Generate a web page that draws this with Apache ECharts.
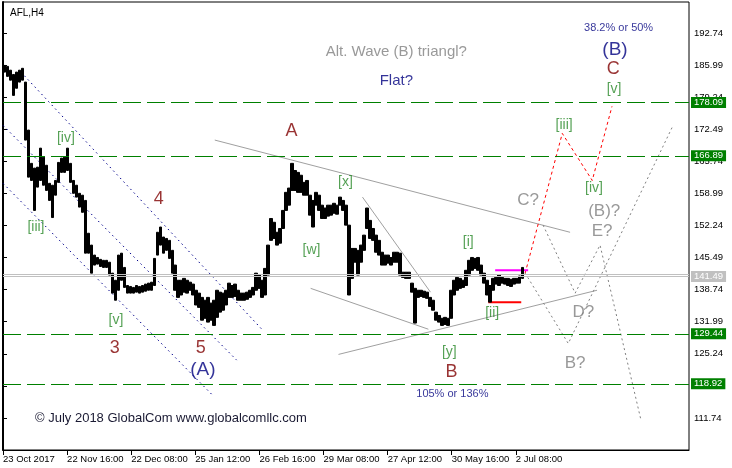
<!DOCTYPE html>
<html><head><meta charset="utf-8">
<script src="https://cdn.jsdelivr.net/npm/echarts@6/dist/echarts.min.js"></script>
<style>html,body{margin:0;padding:0;background:#fff}#c{width:732px;height:468px}</style>
</head><body><div id="c"></div>
<script>
// ---- price data (H4 bars, grouped 3 bars per slot) ----
const highs = [185.9,185.7,184.9,184.0,184.5,184.9,185.3,182.4,172.3,165.3,
164.3,164.5,168.5,166.6,164.9,161.1,160.7,161.7,165.5,166.4,
166.6,168.5,165.3,161.7,160.7,159.0,158.6,157.5,150.6,148.1,
146.0,145.5,145.1,144.9,144.9,144.5,142.2,140.7,146.0,146.4,
143.4,139.6,139.4,139.2,139.6,139.4,139.6,139.9,140.1,140.3,
145.3,150.8,151.9,149.8,149.5,149.1,147.0,143.9,140.7,140.7,
141.1,140.7,140.3,139.9,138.6,138.0,137.1,136.5,137.1,135.9,
136.5,138.6,138.2,138.0,138.6,140.1,139.6,139.9,138.6,138.0,
138.0,138.2,138.6,139.2,142.2,141.8,140.7,143.2,148.1,153.7,
152.9,150.8,151.6,155.4,159.2,160.1,165.3,163.8,163.4,162.8,
161.3,161.7,158.6,157.5,159.2,158.6,156.5,155.9,156.5,156.5,
156.9,156.5,158.2,157.5,156.5,152.3,147.4,147.4,147.0,148.1,
150.2,155.9,153.3,151.6,150.2,149.1,146.6,146.0,146.0,145.5,
146.6,146.6,146.4,142.4,142.4,142.4,140.1,139.0,138.6,138.6,
138.4,138.2,137.1,136.5,134.0,133.3,132.7,132.9,132.7,138.6,
140.7,141.3,141.1,140.7,142.8,144.9,145.5,145.3,145.5,143.9,
142.2,140.7,139.6,141.1,141.3,141.8,141.3,141.1,141.1,140.9,
141.1,141.1,141.6,143.4];
const lows = [184.5,183.6,182.8,179.6,181.1,182.4,182.8,170.2,162.4,161.7,
155.4,160.3,161.7,160.7,159.6,157.5,153.9,158.6,161.3,163.4,
163.4,163.8,161.3,159.0,158.2,156.1,155.0,146.4,146.4,142.2,
143.9,144.1,143.6,143.4,143.4,141.8,138.0,136.5,138.6,140.7,
139.2,138.0,138.0,138.0,138.2,138.0,138.2,138.4,138.6,138.6,
139.6,146.0,148.1,146.4,147.0,145.3,142.2,138.6,137.1,137.6,
138.2,138.0,138.6,137.6,135.5,135.0,132.3,132.7,131.9,132.3,
131.2,132.9,134.0,134.4,135.5,137.1,137.1,137.3,136.5,136.5,
136.5,136.7,137.1,137.6,138.6,139.0,137.1,137.6,141.8,149.1,
149.5,148.1,148.5,151.6,155.4,156.5,159.6,159.6,159.2,159.2,
158.6,158.6,154.4,151.9,156.5,155.4,153.7,153.7,154.2,154.4,
154.8,154.6,156.5,155.4,152.3,137.6,141.1,144.5,141.8,144.5,
147.0,151.6,149.5,149.1,146.6,146.0,143.9,143.9,144.3,143.9,
144.5,144.5,141.8,141.3,141.1,141.1,138.2,131.7,137.1,137.3,
137.1,136.9,135.2,134.4,132.3,131.9,131.2,131.4,131.2,132.7,
137.6,138.6,139.0,139.2,139.6,141.8,142.8,143.2,142.8,141.8,
140.1,137.6,136.1,138.6,139.9,139.6,140.1,139.9,139.6,139.4,
139.9,140.1,140.1,141.1];
const slotCount = 229;

// ---- axes ----
const dateLabels = ['23 Oct 2017','22 Nov 16:00','22 Dec 08:00','25 Jan 12:00','26 Feb 16:00','29 Mar 08:00','27 Apr 12:00','30 May 16:00','2 Jul 08:00'];
const dateTickPos = [0,21.4,42.8,64.2,85.6,107,128.4,149.8,171.2];
const priceMin = 104.99, priceMax = 199.25, priceStep = 6.75;

// ---- levels ----
const greenLevels = [178.09,166.89,129.44,118.92];
const bidLevel = 141.49;
const askLevel = 141.95;

// ---- annotation lines: [slot position, price] ----
const channelLines = [
  [[6,184.5],[86.7,130.2]],
  [[0,173.3],[78,123.9]],
  [[0,161.1],[70,116.5]]
];
const triangleLines = [
  [[70.7,170.2],[189.3,150.8]],
  [[102.7,139.0],[142,130.4]],
  [[112,125.1],[198.3,138.6]],
  [[120,158.2],[142.7,138.2]]
];
const magentaLine = [[164.3,142.8],[175.3,142.8]];
const redLine = [[162,136.1],[173,136.1]];
const redPath = [[174.3,142.2],[186.7,171.6],[196.7,161.7],[203.3,177.3]];
const greyPaths = [
  [[174.3,142.2],[188.7,127.4],[223.7,173.3]],
  [[180.3,152.3],[191,138.0],[199.3,148.1],[213,111.2]]
];

// ---- text labels: [text, slot position, price] ----
const redLabels = [['A',96.3,172.0],['B',149.7,121.35],['4',52,157.75],['3',37.3,126.4],['5',66,126.4],['C',203.7,185.1]];
const navyBigLabels = [['(A)',66.7,121.8],['(B)',204.3,189.3]];
const greenLabels = [['[iv]',21,170.6],['[iii]',11,151.9],['[v]',37.7,132.3],['[x]',114.3,161.3],['[w]',103,147.0],['[i]',155.3,148.7],['[ii]',163.3,133.8],['[y]',149,125.6],['[iii]',187.3,173.3],['[iv]',197.3,160.1],['[v]',204,180.9]];
const greyLabels = [['C?',175.3,157.5],['(B)?',200.7,155.2],['E?',200,151.0],['D?',193.7,134.0],['B?',191,123.2]];
const navySmallLabels = [['38.2% or 50%',205.5,193.7],['105% or 136%',150,116.7]];
const headlineGrey = [['Alt. Wave (B) triangl?',131.3,188.7]];
const headlineNavy = [['Flat?',131.3,182.6]];

const FONT = 'Liberation Sans, Arial, sans-serif';
const chart = echarts.init(document.getElementById('c'), null, {renderer:'canvas'});

const candles = highs.map((h,i)=>[lows[i],h,lows[i],h]);
const categories = Array.from({length:slotCount},(_,i)=>String(i));

function lineSeries(coords, color, type, width){
  return {type:'line', xAxisIndex:1, yAxisIndex:0, data:coords, symbol:'none', silent:true,
    animation:false, z:2, lineStyle:{color:color, width:width||1, type:type||'solid'}};
}
function labelSeries(list, color, size, z){
  return {type:'scatter', xAxisIndex:1, yAxisIndex:0, symbolSize:0, silent:true, animation:false, z:z||6,
    data:list.map(l=>({name:l[0], value:[l[1],l[2]]})),
    label:{show:true, position:'inside', formatter:'{b}', color:color, fontSize:size, fontFamily:FONT}};
}

const markData = greenLevels.map(v=>({yAxis:v,
    lineStyle:{color:'#008000', width:1, type:[18,6]},
    label:{backgroundColor:'#008000'}}));
markData.push({yAxis:askLevel, lineStyle:{color:'#c0c0c0', width:1, type:'solid'}, label:{show:false}});
markData.push({yAxis:bidLevel, lineStyle:{color:'#c0c0c0', width:1, type:'solid'}, label:{backgroundColor:'#c0c0c0'}});

const series = [];
channelLines.forEach(c=>series.push(lineSeries(c,'#00008b',[1.5,3.5])));
triangleLines.forEach(c=>series.push(lineSeries(c,'#a0a0a0','solid')));
greyPaths.forEach(c=>series.push(lineSeries(c,'#808080',[2,3])));
series.push(lineSeries(redPath,'#ff0000',[3,3]));
series.push(lineSeries(magentaLine,'#ff00ff','solid',2));
series.push(lineSeries(redLine,'#ff0000','solid',2));
series.push({type:'candlestick', xAxisIndex:0, yAxisIndex:0, data:candles, barWidth:3, z:3, silent:true, animation:false,
  itemStyle:{color:'#000', color0:'#000', borderColor:'#000', borderColor0:'#000', borderWidth:1},
  markLine:{symbol:'none', silent:true, animation:false, data:markData,
    label:{show:true, position:'end', distance:2, color:'#fff', fontSize:9.5, fontFamily:FONT, padding:[1,3,0,3], lineHeight:10,
      formatter:p=>p.value.toFixed(2)}}});
series.push(labelSeries(redLabels,'#800000',18));
series.push(labelSeries(navyBigLabels,'#000080',19));
series.push(labelSeries(greenLabels,'#2a8a2a',14));
series.push(labelSeries(greyLabels,'#808080',17));
series.push(labelSeries(navySmallLabels,'#000080',11));
series.push(labelSeries(headlineGrey,'#808080',15));
series.push(labelSeries(headlineNavy,'#000080',15));

chart.setOption({
  animation:false,
  backgroundColor:'#fff',
  title:{text:'AFL,H4', left:5, top:3, textStyle:{fontSize:10, fontWeight:'normal', color:'#000', fontFamily:FONT}},
  graphic:[{type:'text', left:35, top:412, style:{text:'© July 2018 GlobalCom www.globalcomllc.com', fill:'#1a1a33', font:'13px '+FONT}}],
  grid:{left:2, right:43, top:2, bottom:18, show:true, borderColor:'#000', borderWidth:1},
  xAxis:[
    {type:'category', data:categories, show:false, boundaryGap:true},
    {type:'value', min:0, max:slotCount, interval:21.4, position:'bottom',
      axisLine:{show:true, onZero:false, lineStyle:{color:'#000', width:1}},
      axisTick:{show:true, length:5, lineStyle:{color:'#000'}, customValues:dateTickPos},
      axisLabel:{show:true, customValues:dateTickPos, align:'left', margin:4, color:'#000', fontSize:9.5, fontFamily:FONT,
        formatter:v=>{const i=dateTickPos.findIndex(t=>Math.abs(t-v)<0.01); return i>=0?dateLabels[i]:'';}},
      splitLine:{show:false}}
  ],
  yAxis:{type:'value', position:'right', min:priceMin, max:priceMax, interval:priceStep,
    axisLine:{show:true, lineStyle:{color:'#000', width:2}},
    axisTick:{show:true, length:4, lineStyle:{color:'#000'}},
    axisLabel:{color:'#000', fontSize:9.5, fontFamily:FONT, margin:5, showMinLabel:false, showMaxLabel:false,
      formatter:v=>v.toFixed(2)},
    splitLine:{show:false}},
  series:series
});
</script></body></html>
